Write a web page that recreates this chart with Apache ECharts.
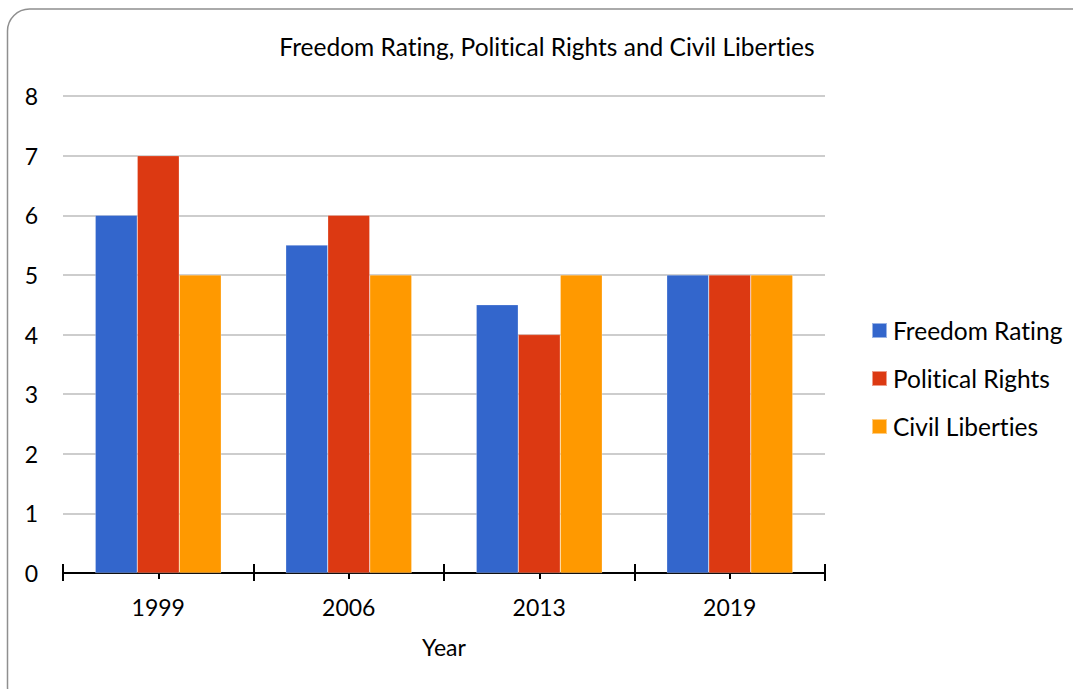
<!DOCTYPE html>
<html>
<head>
<meta charset="utf-8">
<script src="https://cdn.jsdelivr.net/npm/echarts@6/dist/echarts.min.js"></script>
<style>
  html, body { margin: 0; padding: 0; background: #ffffff; }
  #chart { width: 1073px; height: 689px; }
  #chart text { font-variant-ligatures: none; }
</style>
</head>
<body>
<div id="chart"></div>
<script>
// Ratings by survey year
const years = ['1999', '2006', '2013', '2019'];
const freedomRating = [6, 5.5, 4.5, 5];
const politicalRights = [7, 6, 4, 5];
const civilLiberties = [5, 5, 5, 5];
const yTicks = [0, 1, 2, 3, 4, 5, 6, 7, 8];

const FONT = 'Lato, "Open Sans", sans-serif';
const chart = echarts.init(document.getElementById('chart'), null, { renderer: 'svg' });

// Ticks crossing the axis line: one axis draws the outer half, another the inner half
function tickAxis(alignWithLabel, inside, length) {
  return {
    type: 'category',
    data: years,
    position: 'bottom',
    axisLine: { show: false },
    axisLabel: { show: false },
    splitLine: { show: false },
    axisTick: {
      show: true, alignWithLabel: alignWithLabel, inside: inside, length: length,
      lineStyle: { color: '#000', width: 2 }
    }
  };
}

const barStyle = { borderColor: 'rgba(255,255,255,0.5)', borderWidth: 0.5 };

chart.setOption({
  animation: false,
  backgroundColor: '#ffffff',
  graphic: [{
    type: 'rect',
    shape: { x: 7.5, y: 9, width: 1090, height: 700, r: 22 },
    style: { fill: 'none', stroke: '#8f8f8f', lineWidth: 1.5 },
    silent: true, z: -1
  }],
  title: {
    text: 'Freedom Rating, Political Rights and Civil Liberties',
    left: 542, top: 29, textAlign: 'center',
    textStyle: { fontFamily: FONT, fontSize: 24.5, fontWeight: 'normal', color: '#000' }
  },
  legend: {
    orient: 'vertical',
    left: 866, top: 313,
    itemWidth: 15, itemHeight: 15, itemGap: 23, icon: 'rect',
    textStyle: { fontFamily: FONT, fontSize: 24.5, color: '#000', padding: [0, 0, 0, 1] },
    data: ['Freedom Rating', 'Political Rights', 'Civil Liberties']
  },
  grid: { left: 63, right: 248, top: 96, bottom: 116, containLabel: false },
  xAxis: [
    {
      type: 'category',
      data: years,
      name: 'Year',
      nameLocation: 'middle',
      nameGap: 62,
      nameTextStyle: { fontFamily: FONT, fontSize: 23, color: '#000' },
      axisLine: { show: true, lineStyle: { color: '#000', width: 2 } },
      axisTick: { show: true, length: 8, lineStyle: { color: '#000', width: 2 } },
      axisLabel: { fontFamily: FONT, fontSize: 23, color: '#000', margin: 22 }
    },
    tickAxis(false, true, 9),
    tickAxis(true, false, 6),
    tickAxis(true, true, 6)
  ],
  yAxis: {
    type: 'value',
    min: yTicks[0], max: yTicks[yTicks.length - 1], interval: 1,
    axisLine: { show: false },
    axisTick: { show: false },
    axisLabel: { fontFamily: FONT, fontSize: 23, color: '#000', margin: 25, align: 'right' },
    splitLine: { lineStyle: { color: '#bdbdbd', width: 1.5 } }
  },
  series: [
    { name: 'Freedom Rating', type: 'bar', data: freedomRating, barWidth: 42, barGap: '0%',
      itemStyle: Object.assign({ color: '#3366CC' }, barStyle) },
    { name: 'Political Rights', type: 'bar', data: politicalRights, barWidth: 42, barGap: '0%',
      itemStyle: Object.assign({ color: '#DC3912' }, barStyle) },
    { name: 'Civil Liberties', type: 'bar', data: civilLiberties, barWidth: 42, barGap: '0%',
      itemStyle: Object.assign({ color: '#FF9900' }, barStyle) }
  ]
});
</script>
</body>
</html>
